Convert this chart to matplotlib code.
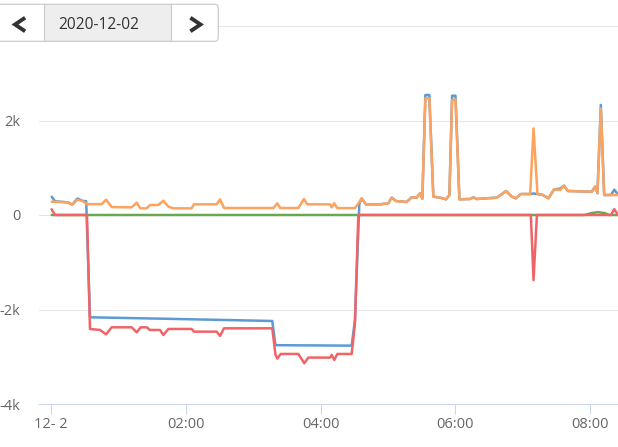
import matplotlib
matplotlib.use('Agg')
import matplotlib.pyplot as plt
from matplotlib.patches import FancyBboxPatch, Rectangle
from matplotlib.lines import Line2D
from matplotlib.transforms import IdentityTransform

plt.rcParams['font.family'] = ['Open Sans', 'DejaVu Sans']

# times are minutes after 00:00 on 2020-12-02
orange_t = [0.6, 15, 19, 23.5, 28, 32, 45, 49, 54, 71.8, 76.3, 79.5, 85.2, 88.1, 95.6,
            100, 104.5, 108.9, 125.2, 127.3, 147.5, 150.5, 154, 198, 201.5, 204, 220.2,
            225.2, 228.2, 248.4, 249.9, 252.2, 254.9, 270.6, 273.6, 276.6, 280.4, 292.9,
            300.3, 303.3, 307.1, 316.6, 321.1, 325.5, 328.5, 330.6, 333.3, 336.8, 340.4,
            346.4, 351.7, 354.7, 357.1, 360.1, 363.6, 373.1, 376.1, 379.1, 396.9, 405.2,
            410.2, 413.8, 418.3, 426.6, 429.6, 433.1, 437.9, 442.9, 447.9, 453.3, 456.8,
            460.1, 481.5, 484.4, 486.5, 489.5, 492.5, 504.9]
orange_v = [282, 268, 220, 325, 295, 230, 230, 325, 168, 162, 261, 141, 141, 212, 212,
            303, 176, 141, 141, 226, 226, 332, 148, 148, 247, 148, 148,
            339, 226, 226, 162, 247, 145, 145, 246, 350, 226, 226,
            247, 367, 296, 275, 374, 367, 458, 346, 2469, 2469, 388,
            367, 332, 423, 2434, 2448, 332, 339, 374, 339, 367, 508,
            388, 353, 444, 444, 1833, 444, 423, 353, 543, 529, 621,
            508, 494, 600, 473, 2257, 423, 423]

blue_t = [0.6, 3.6, 15, 19, 23.5, 28, 31.3, 34.7, 100, 197, 199.8, 267.7, 270.6, 274.5,
          276.6, 280.4, 292.9, 300.3, 303.3, 307.1, 316.6, 321.1, 325.5, 328.5, 330.6,
          333.3, 336.8, 340.4, 346.4, 351.7, 354.7, 357.1, 360.1, 363.6, 373.1, 376.1,
          379.1, 396.9, 405.2, 410.2, 413.8, 418.3, 426.6, 429.6, 433.1, 437.9, 442.9,
          447.9, 453.3, 456.8, 460.1, 481.5, 484.4, 486.5, 489.5, 492.5, 498.5, 501.5, 504.9]
blue_v = [388, 290, 268, 220, 350, 300, 290, -2165, -2195, -2243, -2755, -2765, -2222, 240,
          350, 226, 226, 247, 367, 296, 275, 374, 367, 458, 346,
          2540, 2540, 388, 367, 332, 423, 2525, 2525, 332, 339, 374,
          339, 367, 508, 388, 353, 444, 444, 455, 444, 423, 353,
          543, 557, 621, 508, 494, 600, 460, 2330, 423, 423, 535, 430]

red_t = [0.6, 3.6, 32, 34.7, 43.6, 49, 54, 71.8, 76.3, 79.8, 85.2, 88.1, 97, 100, 104.5,
         125.2, 127.3, 147.5, 150.5, 154, 197, 199.8, 201.5, 204.5, 220.2, 225.5, 229.1,
         248.4, 249.9, 252.2, 254.9, 267.7, 270.6, 273.6, 427.2, 429.6, 432.6, 498.5,
         501.5, 504.9]
red_v = [121, 0, 0, -2412, -2433, -2525, -2377, -2377, -2483, -2377, -2377, -2433, -2433,
         -2539, -2412, -2412, -2469, -2469, -2560, -2398, -2398, -2950, -3040, -2941,
         -2941, -3138, -3018, -3018, -2962, -3068, -2941, -2941, -2293, 0, 0, -1378, 0, 0,
         121, 0]

green_t = [0.6, 475, 481, 487, 493, 497, 504.9]
green_v = [0, 0, 40, 60, 40, 0, 0]

x_ticks = [0, 120, 240, 360, 480]
x_labels = ['12- 2', '02:00', '04:00', '06:00', '08:00']
y_ticks = [-4000, -2000, 0, 2000, 4000]
y_labels = ['-4k', '-2k', '0', '2k', '4k']
date_text = '2020-12-02'

W, H = 618, 447
fig = plt.figure(figsize=(W / 100, H / 100), dpi=100)
ax = fig.add_axes([39 / W, 1 - 404 / H, (W - 39) / W, (404 - 26) / H])

style = dict(lw=1.8, solid_joinstyle='round', solid_capstyle='round')
ax.plot(blue_t, blue_v, color='#5b9bd5', zorder=2, **style)
ax.plot(green_t, green_v, color='#6aa84f', zorder=3, **style)
ax.plot(red_t, red_v, color='#f06468', zorder=4, **style)
ax.plot(orange_t, orange_v, color='#fda35e', zorder=5, **style)

ax.set_xlim(-10.7, 504.8)
ax.set_ylim(-4000, 4000)
ax.set_xticks(x_ticks)
ax.set_xticklabels(x_labels)
ax.set_yticks(y_ticks)
ax.set_yticklabels(y_labels)
ax.grid(axis='y', color='#e6e6e6', lw=0.75)
ax.set_axisbelow(True)
for s in ['top', 'right', 'left']:
    ax.spines[s].set_visible(False)
ax.spines['bottom'].set_color('#ccd6eb')
ax.spines['bottom'].set_linewidth(0.75)
ax.tick_params(axis='y', length=0, pad=13.5, labelcolor='#666666', labelsize=10.5)
ax.tick_params(axis='x', length=7.5, width=0.75, color='#ccd6eb', pad=1.5,
               labelcolor='#666666', labelsize=10.5)

# date picker buttons in the top left corner (pixel coords, y from top)
T = IdentityTransform()
def Y(y):
    return H - y

fill = FancyBboxPatch((-10, Y(41.3)), 228.3, 37, boxstyle='round,pad=0,rounding_size=4',
                      transform=T, facecolor='white', edgecolor='none', zorder=10)
mid = Rectangle((44.3, Y(40.8)), 126.4, 36, transform=T, facecolor='#eeeeee',
                edgecolor='none', zorder=11)
border = FancyBboxPatch((-10, Y(41.3)), 228.3, 37, boxstyle='round,pad=0,rounding_size=4',
                        transform=T, facecolor='none', edgecolor='#cccccc', lw=0.9, zorder=12)
for a in [fill, mid, border]:
    fig.add_artist(a)
for xd in [44.3, 170.7]:
    fig.add_artist(Line2D([xd, xd], [Y(4.3), Y(41.3)], transform=T, color='#cccccc',
                          lw=0.9, zorder=12))
fig.add_artist(Line2D([23.5, 15, 23.5], [Y(18.8), Y(24.5), Y(30.2)], transform=T,
                      color='#333333', lw=2.8, zorder=13, solid_joinstyle='miter'))
fig.add_artist(Line2D([192, 200.5, 192], [Y(18.8), Y(24.5), Y(30.2)], transform=T,
                      color='#333333', lw=2.8, zorder=13, solid_joinstyle='miter'))
fig.text(99.2, Y(29.3), date_text, transform=T, ha='center', va='baseline',
         fontsize=11.2, color='#333333', zorder=13)

fig.savefig('out.png', dpi=100)
